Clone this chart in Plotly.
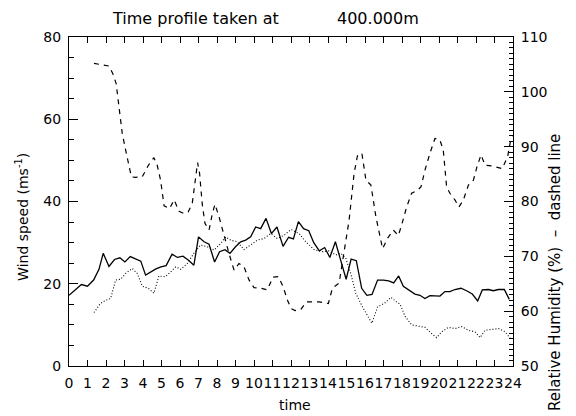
import plotly.graph_objects as go

# Wind speed (solid)
wind_t = [0, 0.33, 0.67, 1.0, 1.33, 1.62, 1.85, 2.16, 2.46, 2.75, 3.02, 3.31, 3.62, 3.88, 4.14, 4.42, 4.7, 4.97,
          5.25, 5.57, 5.86, 6.16, 6.46, 6.75, 7.0, 7.3, 7.57, 7.87, 8.14, 8.43, 8.7, 9.0, 9.28, 9.55, 9.82, 10.09,
          10.36, 10.65, 10.94, 11.24, 11.57, 11.87, 12.13, 12.4, 12.68, 12.96, 13.23, 13.53, 13.82, 14.1, 14.4,
          14.68, 14.98, 15.25, 15.53, 15.82, 16.1, 16.38, 16.68, 16.99, 17.28, 17.55, 17.82, 18.07, 18.38, 18.7,
          18.97, 19.24, 19.51, 19.78, 20.05, 20.32, 20.59, 20.86, 21.19, 21.49, 21.8, 22.09, 22.34, 22.67, 22.94,
          23.21, 23.53, 23.8]
wind_v = [17.2, 18.5, 19.8, 19.4, 20.9, 23.5, 27.4, 24.2, 25.9, 26.3, 25.3, 26.6, 26.0, 25.5, 22.1, 22.9, 23.6, 24.1,
          24.4, 27.2, 26.4, 26.7, 25.7, 24.5, 31.4, 30.2, 29.6, 25.3, 27.8, 28.3, 27.4, 29.0, 30.2, 30.6, 31.4, 33.8,
          33.4, 35.9, 32.2, 33.8, 29.1, 31.3, 30.9, 35.1, 33.4, 32.9, 30.0, 28.0, 28.8, 26.4, 30.2,
          25.8, 21.1, 26.0, 25.6, 18.9, 17.2, 17.4, 20.9, 20.9, 20.7, 20.2, 21.9, 19.4, 18.5, 17.5,
          17.2, 16.4, 17.1, 17.0, 17.0, 18.1, 18.1, 18.6, 18.9, 18.3, 17.5, 15.8, 18.5, 18.6, 18.3,
          18.6, 18.6, 16.2]

# Second wind series (dotted)
dot_t = [1.35, 1.7, 1.98, 2.25, 2.52, 2.79, 3.06, 3.42, 3.69, 3.96, 4.29, 4.59, 4.86, 5.19, 5.5, 5.77, 6.04, 6.39,
         6.75, 7.11, 7.48, 7.84, 8.2, 8.47, 8.74, 9.1, 9.46, 9.82, 10.18, 10.54, 10.9, 11.26, 11.63, 12.0, 12.44,
         12.8, 13.25, 13.7, 14.06, 14.42, 14.69, 14.96, 15.23, 15.5, 15.86, 16.37, 16.68, 17.04, 17.4, 17.7, 17.9,
         18.16, 18.52, 18.88, 19.24, 19.6, 19.87, 20.14, 20.5, 20.86, 21.23, 21.59, 21.95, 22.22, 22.49, 22.86,
         23.22, 23.58, 23.85]
dot_v = [13.0, 15.2, 16.0, 16.4, 20.9, 21.1, 22.5, 23.7, 22.5, 19.4, 18.9, 17.7, 21.9, 21.7, 22.9, 24.1, 23.5, 24.9,
         27.4, 29.4, 29.0, 28.2, 29.8, 31.4, 30.6, 30.2, 28.3, 29.4, 30.6, 31.0, 32.2, 31.0, 31.8, 33.2, 32.2,
         30.2, 28.3, 27.8, 28.0, 27.0, 27.4, 26.2, 22.5, 17.7, 14.4, 10.4, 14.4, 15.2, 16.7, 15.6, 15.0,
         12.1, 10.0, 9.7, 9.4, 7.9, 6.9, 8.3, 9.4, 9.1, 9.6, 8.7, 8.3, 6.9, 8.7, 8.9,
         9.1, 8.3, 6.7]

# Relative humidity (dashed)
rh_t = [1.35, 1.7, 2.16, 2.37, 2.55, 2.7, 2.88, 3.06, 3.24, 3.37, 3.6, 3.96, 4.29, 4.59, 4.77, 4.95, 5.14, 5.44,
        5.68, 5.95, 6.21, 6.44, 6.66, 6.8, 6.95, 7.06, 7.2, 7.35, 7.57, 7.75, 7.89, 8.11, 8.38, 8.65, 8.92, 9.19,
        9.46, 9.73, 10.0, 10.36, 10.72, 11.03, 11.32, 11.57, 11.81, 12.0, 12.22, 12.53, 12.84, 13.16, 13.52, 14.02,
        14.24, 14.6, 14.87, 15.14, 15.41, 15.59, 15.83, 16.05, 16.32, 16.59, 16.95, 17.22, 17.53, 17.8, 17.98,
        18.25, 18.52, 18.85, 19.03, 19.24, 19.51, 19.78, 20.05, 20.23, 20.41, 20.59, 20.86, 21.08, 21.32, 21.59,
        21.86, 22.05, 22.27, 22.49, 22.86, 23.42, 23.71, 23.89, 24.0]
rh_v = [105.2, 105.0, 104.7, 103.3, 101.5, 97.3, 92.4, 89.4, 86.3, 84.5, 84.4, 84.5, 86.6, 88.0, 86.6, 83.9, 79.2, 78.7,
        80.3, 78.2, 77.8, 78.1, 79.6, 83.3, 87.1, 85.1, 79.6, 76.0, 74.8, 77.8, 79.5, 77.2, 73.6, 70.5, 67.5, 68.7,
        68.1, 65.7, 64.3, 64.2, 63.9, 66.2, 66.3, 64.5, 62.0, 60.5, 60.1, 60.3, 61.7, 61.7, 61.7, 61.4,
        64.2, 65.1, 70.5, 76.6, 85.1, 88.3, 88.8, 83.9, 83.0, 77.2, 71.4, 73.3, 74.8, 73.8, 75.7,
        79.0, 81.5, 82.1, 82.7, 85.7, 88.8, 91.5, 91.2, 89.4, 82.7, 81.5, 80.3, 79.0, 80.3, 83.0,
        83.9, 86.3, 88.5, 86.6, 86.5, 86.0, 88.2, 91.5, 91.8]

x_ticks = list(range(0, 25))
title_left = "Time profile taken at"
title_right = "400.000m"
x_title = "time"
y_title = "Wind speed (ms<sup>-1</sup>)"
y2_title = "Relative Humidity (%)  \u2013  dashed line"

FONT = "DejaVu Sans"
fig = go.Figure()
fig.add_trace(go.Scatter(x=wind_t, y=wind_v, mode="lines", line=dict(color="black", width=1.3), showlegend=False))
fig.add_trace(go.Scatter(x=dot_t, y=dot_v, mode="lines", line=dict(color="black", width=1.1, dash="1px,2px"),
                         showlegend=False))
fig.add_trace(go.Scatter(x=rh_t, y=rh_v, mode="lines", yaxis="y2",
                         line=dict(color="black", width=1.2, dash="5px,5px"), showlegend=False))

fig.update_layout(
    width=576, height=416,
    margin=dict(l=69, r=63, t=37, b=50),
    paper_bgcolor="white", plot_bgcolor="white",
    font=dict(family=FONT, size=14, color="black"),
    xaxis=dict(range=[0, 24], tickvals=x_ticks, ticktext=[str(v) for v in x_ticks], tickangle=0,
               ticks="inside", ticklen=6, tickcolor="black", showline=True, linecolor="black", linewidth=1,
               mirror="ticks", showgrid=False, zeroline=False, ticklabelstandoff=4,
               tickfont=dict(size=14)),
    yaxis=dict(range=[0, 80], dtick=20, ticks="inside", ticklen=9, tickcolor="black",
               showline=True, linecolor="black", linewidth=1, showgrid=False, zeroline=False,
               minor=dict(dtick=5, ticks="inside", ticklen=5, tickcolor="black", showgrid=False),
               ticklabelstandoff=4, tickfont=dict(size=14)),
    yaxis2=dict(range=[50, 110], dtick=10, overlaying="y", side="right", ticks="inside", ticklen=9,
                tickcolor="black", showline=True, linecolor="black", linewidth=1, showgrid=False,
                zeroline=False, minor=dict(dtick=1, ticks="inside", ticklen=4, tickcolor="black", showgrid=False),
                ticklabelstandoff=4, tickfont=dict(size=14)),
    annotations=[
        dict(text=title_left, x=0.284, y=1.057, xref="paper", yref="paper", showarrow=False,
             font=dict(size=16), xanchor="center", yanchor="middle"),
        dict(text=title_right, x=0.696, y=1.057, xref="paper", yref="paper", showarrow=False,
             font=dict(size=16), xanchor="center", yanchor="middle"),
        dict(text=x_title, x=0.509, y=-0.118, xref="paper", yref="paper", showarrow=False,
             font=dict(size=14), xanchor="center", yanchor="middle"),
        dict(text=y_title, x=-0.106, y=0.453, xref="paper", yref="paper", showarrow=False, textangle=-90,
             font=dict(size=14), xanchor="center", yanchor="middle"),
        dict(text=y2_title, x=1.0946, y=0.283, xref="paper", yref="paper", showarrow=False, textangle=-90,
             font=dict(size=15), xanchor="center", yanchor="middle"),
    ],
)

fig.write_html("out.html")
